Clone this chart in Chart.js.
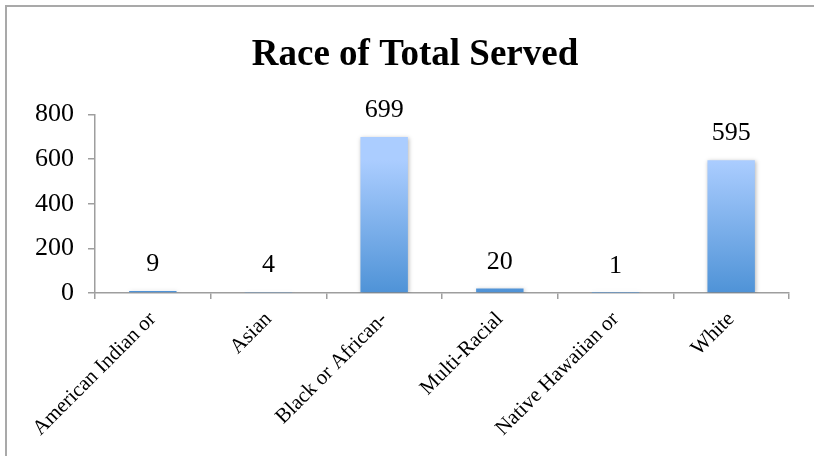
<!DOCTYPE html>
<html>
<head>
<meta charset="utf-8">
<script src="https://cdn.jsdelivr.net/npm/chart.js@4.4.0/dist/chart.umd.min.js"></script>
<style>
  html, body { margin: 0; padding: 0; background: #fff; }
  #wrap { position: relative; width: 814px; height: 456px; overflow: hidden; }
  #frame { position: absolute; left: 5px; top: 5px; width: 900px; height: 500px;
           border-left: 2px solid #a9a9a9; border-top: 2px solid #a9a9a9; }
  canvas { position: absolute; left: 0; top: 0; }
</style>
</head>
<body>
<div id="wrap">
  <div id="frame"></div>
  <canvas id="myChart_race" width="814" height="456"></canvas>
</div>
<script>
// categories and counts
const raceLabels = [
  'American Indian or',
  'Asian',
  'Black or African-',
  'Multi-Racial',
  'Native Hawaiian or',
  'White'
]
const raceServed = [9, 4, 699, 20, 1, 595]
const yTicks = [0, 200, 400, 600, 800]

const serif = "'Liberation Serif', 'Times New Roman', serif"

// excel style fill: light at the top of each bar, darker at the base
const barGradient = {
  id: 'barGradient',
  beforeDatasetsDraw(chart) {
    const ctx = chart.ctx
    chart.getDatasetMeta(0).data.forEach(bar => {
      const g = ctx.createLinearGradient(0, bar.y, 0, bar.base)
      g.addColorStop(0, '#abcdff')
      g.addColorStop(1, '#4f93d7')
      bar.options.backgroundColor = g
    })
    ctx.save()
    ctx.shadowColor = 'rgba(0,0,0,0.28)'
    ctx.shadowBlur = 4
    ctx.shadowOffsetX = 1
    ctx.shadowOffsetY = 1
  },
  afterDatasetsDraw(chart) {
    chart.ctx.restore()
  }
}

// value above each bar
const valueLabels = {
  id: 'valueLabels',
  afterDraw(chart) {
    const ctx = chart.ctx
    ctx.save()
    ctx.font = '26px ' + serif
    ctx.fillStyle = '#000'
    ctx.textAlign = 'center'
    ctx.textBaseline = 'alphabetic'
    chart.getDatasetMeta(0).data.forEach((bar, i) => {
      ctx.fillText(raceServed[i], bar.x, bar.y - 20)
    })
    ctx.restore()
  }
}

const data_race = {
  labels: raceLabels,
  datasets: [{
    label: 'Race of Total Served',
    data: raceServed,
    backgroundColor: '#7fb0ec',
    borderWidth: 0,
    categoryPercentage: 1,
    barPercentage: 0.41
  }]
}

const config_race = {
  type: 'bar',
  data: data_race,
  plugins: [barGradient, valueLabels],
  options: {
    responsive: false,
    animation: false,
    layout: { padding: { left: 16, right: 0, top: 0, bottom: 0 } },
    plugins: {
      legend: { display: false },
      tooltip: { enabled: false },
      title: {
        display: true,
        text: 'Race of Total Served',
        color: '#000',
        font: { family: serif, size: 37, weight: 'bold' },
        padding: { top: 33, bottom: 37 }
      }
    },
    scales: {
      x: {
        grid: { drawOnChartArea: false, drawTicks: true, tickLength: 6, color: '#9e9e9e', lineWidth: 1.5 },
        border: { color: '#9e9e9e', width: 1.5 },
        ticks: {
          autoSkip: false,
          minRotation: 45,
          maxRotation: 45,
          padding: 8,
          color: '#000',
          font: { family: serif, size: 21 }
        },
        afterFit(scale) { scale.height = 163 }
      },
      y: {
        min: 0,
        max: 800,
        afterBuildTicks(scale) { scale.ticks = yTicks.map(v => ({ value: v })) },
        grid: { drawOnChartArea: false, drawTicks: true, tickLength: 7, color: '#9e9e9e', lineWidth: 1.5 },
        border: { color: '#9e9e9e', width: 1.5 },
        ticks: {
          padding: 14,
          color: '#000',
          font: { family: serif, size: 26 }
        },
        afterFit(scale) { scale.width = 79 }
      },
      // empty strip on the right so the plot ends where the reference does
      yRight: {
        type: 'linear',
        position: 'right',
        grid: { display: false },
        border: { display: false },
        ticks: { display: false },
        afterFit(scale) { scale.width = 25 }
      }
    }
  }
}

const barChart_race = new Chart(
  document.getElementById('myChart_race'),
  config_race
)
</script>
</body>
</html>
